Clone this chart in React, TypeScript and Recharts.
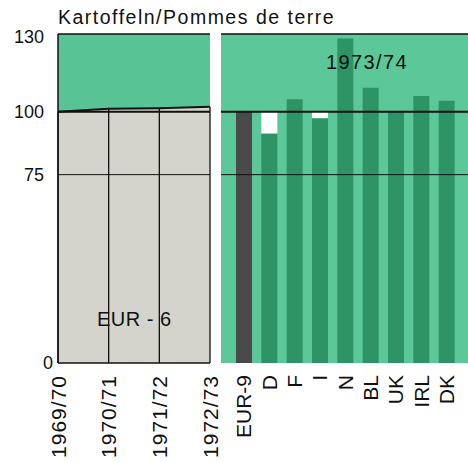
import React from "react";
import {
  AreaChart,
  Area,
  BarChart,
  Bar,
  Cell,
  XAxis,
  YAxis,
  CartesianGrid,
  ReferenceLine,
} from "recharts";

const seasons = ["1969/70", "1970/71", "1971/72", "1972/73"];
const eur6Index = [100, 101.2, 101.4, 102];

const countries = ["EUR-9", "D", "F", "I", "N", "BL", "UK", "IRL", "DK"];
const countryIndex = [100, 91.4, 105, 97.5, 129.2, 109.6, 100, 106.3, 104.4];
const shortfall = [0, 8.6, 0, 2.5, 0, 0, 0, 0, 0];

const yTicks = [0, 75, 100, 130];
const yMax = 131;

const FONT = "'Liberation Sans', Arial, Helvetica, sans-serif";
const LIGHT_GREEN = "#5cc89a";
const TOP_GREEN = "#58c496";
const DARK_GREEN = "#2e9466";
const GRAY = "#d4d4cc";
const DARK_BAR = "#4a4a4a";

const leftData = seasons.map((s, i) => ({ season: s, index: eur6Index[i] }));
const rightData = countries.map((c, i) => ({
  country: c,
  index: countryIndex[i],
  gap: shortfall[i],
}));

const RotatedTick = (props: any) => {
  const { x, y, payload, spacing } = props;
  return (
    <g transform={`translate(${x},${y}) rotate(-90)`}>
      <text
        textAnchor="end"
        dy="0.36em"
        fontSize={21}
        fontFamily={FONT}
        fill="#111"
        letterSpacing={spacing || 0}
      >
        {payload.value}
      </text>
    </g>
  );
};

const YTick = (props: any) => {
  const { x, y, payload } = props;
  const dx = payload.value === 0 ? 9 : 0;
  return (
    <text
      x={x + dx}
      y={y}
      dy="0.36em"
      textAnchor="end"
      fontSize={18}
      fontFamily={FONT}
      fill="#111"
    >
      {payload.value}
    </text>
  );
};

export default function App() {
  return (
    <div
      style={{
        position: "absolute",
        left: 0,
        top: 0,
        width: 468,
        height: 462,
        background: "#fff",
        overflow: "hidden",
      }}
    >
      <div style={{ position: "absolute", left: 0, top: 0 }}>
        <AreaChart
          width={222}
          height={462}
          data={leftData}
          margin={{ top: 34, right: 12, bottom: 0, left: 0 }}
        >
          <CartesianGrid
            fill={TOP_GREEN}
            fillOpacity={1}
            horizontal={false}
            vertical={false}
            stroke="none"
          />
          <XAxis
            dataKey="season"
            height={99}
            axisLine={{ stroke: "#111", strokeWidth: 1.5 }}
            tickLine={false}
            tickSize={0}
            tickMargin={12}
            interval={0}
            tick={<RotatedTick spacing={1} />}
          />
          <YAxis
            width={58}
            domain={[0, yMax]}
            ticks={yTicks}
            interval={0}
            axisLine={{ stroke: "#111", strokeWidth: 1.5 }}
            tickLine={false}
            tickSize={0}
            tickMargin={14}
            tick={<YTick />}
          />
          <Area
            type="linear"
            dataKey="index"
            fill={GRAY}
            fillOpacity={1}
            stroke="#111"
            strokeWidth={2}
            isAnimationActive={false}
            dot={false}
            activeDot={false}
          />
          {leftData.map((d) => (
            <ReferenceLine
              key={d.season}
              segment={[
                { x: d.season, y: 0 },
                { x: d.season, y: d.index },
              ]}
              stroke="#111"
              strokeWidth={1.3}
            />
          ))}
          <ReferenceLine y={100} stroke="#111" strokeWidth={2} />
          <ReferenceLine y={75} stroke="#111" strokeWidth={1} />
          <ReferenceLine y={yMax} stroke="#111" strokeWidth={1.5} />
        </AreaChart>
      </div>
      <div style={{ position: "absolute", left: 210, top: 0 }}>
        <BarChart
          width={258}
          height={462}
          data={rightData}
          margin={{ top: 34, right: 0, bottom: 0, left: 11 }}
          barCategoryGap={0}
        >
          <CartesianGrid
            fill={LIGHT_GREEN}
            fillOpacity={1}
            horizontal={false}
            vertical={false}
            stroke="none"
          />
          <XAxis
            dataKey="country"
            height={99}
            padding={{ left: 10, right: 9 }}
            axisLine={false}
            tickLine={false}
            tickSize={0}
            tickMargin={12}
            interval={0}
            tick={<RotatedTick />}
          />
          <YAxis hide domain={[0, yMax]} ticks={yTicks} />
          <Bar
            dataKey="index"
            stackId="a"
            barSize={16}
            fill={DARK_GREEN}
            isAnimationActive={false}
          >
            {rightData.map((d, i) => (
              <Cell key={d.country} fill={i === 0 ? DARK_BAR : DARK_GREEN} />
            ))}
          </Bar>
          <Bar
            dataKey="gap"
            stackId="a"
            barSize={16}
            fill="#ffffff"
            isAnimationActive={false}
          />
          <ReferenceLine y={100} stroke="#111" strokeWidth={2} />
          <ReferenceLine y={75} stroke="#111" strokeWidth={1} />
          <ReferenceLine y={yMax} stroke="#111" strokeWidth={1.5} />
        </BarChart>
      </div>
      <svg
        width={468}
        height={462}
        style={{ position: "absolute", left: 0, top: 0, pointerEvents: "none" }}
      >
        <text
          x={58}
          y={23.5}
          fontSize={19.5}
          letterSpacing={1.5}
          fontFamily={FONT}
          fill="#111"
        >
          Kartoffeln/Pommes de terre
        </text>
        <text
          x={326}
          y={69}
          fontSize={20}
          letterSpacing={1.4}
          fontFamily={FONT}
          fill="#111"
        >
          1973/74
        </text>
        <text
          x={97}
          y={326}
          fontSize={20}
          letterSpacing={0.5}
          fontFamily={FONT}
          fill="#111"
        >
          EUR - 6
        </text>
      </svg>
    </div>
  );
}
